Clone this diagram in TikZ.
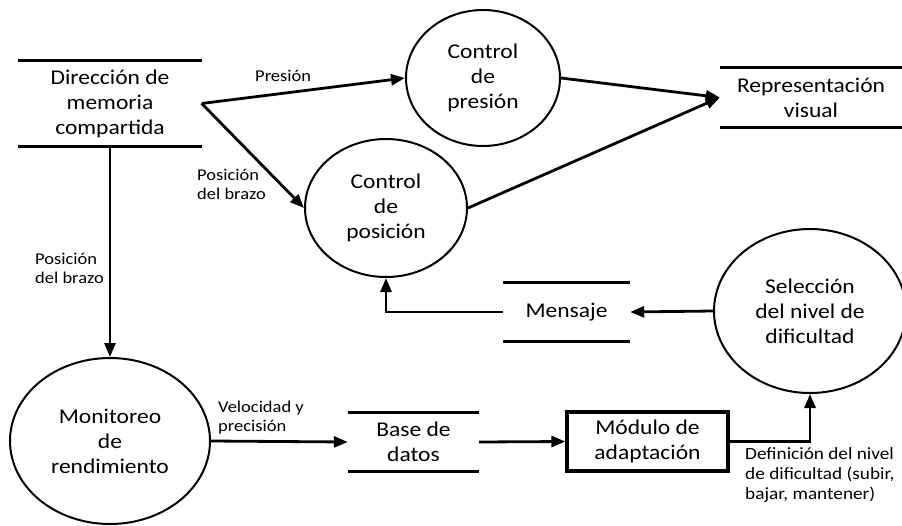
\documentclass[tikz,border=0pt]{standalone}
\usepackage{fontspec}
\setmainfont{Carlito}[FakeStretch=1.12]
\usetikzlibrary{arrows.meta,shapes.geometric}
\tikzset{
	proc/.style={ellipse, draw, line width=2pt, inner sep=0pt, align=center, font=\fontsize{21}{25}\selectfont},
	store/.style={inner sep=0pt, align=center, font=\fontsize{21}{25}\selectfont},
	storeline/.style={line width=3pt},
	modbox/.style={draw, line width=3.2pt, inner sep=0pt, align=center, font=\fontsize{21}{25}\selectfont},
	flow/.style={line width=2.8pt, -{Triangle[length=14pt,width=11pt]}},
	lbl/.style={inner sep=0pt, align=left, anchor=west, font=\fontsize{16.5}{19}\selectfont}
}

\begin{document}
\begin{tikzpicture}[x=1pt, y=-1pt]
		%%%%% START %%%%%
		\useasboundingbox (0, 0) rectangle (902, 525);
		
		\node[proc, minimum width=154, minimum height=136] (cpres) at (483, 78) {Control\\de\\presión};
		\node[proc, minimum width=162, minimum height=138] (cpos) at (386, 208) {Control\\de\\posición};
		\node[proc, minimum width=200, minimum height=166] (moni) at (110, 441) {Monitoreo\\de\\rendimiento};
		\node[proc, minimum width=192, minimum height=164] (sel) at (810, 311) {Selección\\del nivel de\\dificultad};
		
		\node[store, minimum width=183, minimum height=85] (mem) at (110, 103.5) {Dirección de\\memoria\\compartida};
		\node[store, minimum width=182, minimum height=59] (rep) at (811, 97.5) {Representación\\visual};
		\node[store, minimum width=131, minimum height=58] (db) at (413.5, 442) {Base de\\datos};
		\node[store, minimum width=127, minimum height=58] (msg) at (566.5, 312) {Mensaje};
		\node[modbox, minimum width=161, minimum height=59] (mod) at (647.5, 441.5) {Módulo de\\adaptación};
		
		% lineas de los almacenes
		\foreach \s in {mem, rep, db, msg} {
			\draw[storeline] (\s.north west) -- (\s.north east);
			\draw[storeline] (\s.south west) -- (\s.south east);
		}
		
		\draw[flow] (mem.east) -- (cpres.west);
		\draw[flow] (mem.east) -- (cpos.west);
		\draw[flow] (cpres.east) -- (rep.west);
		\draw[flow] (cpos.east) -- (rep.west);
		\draw[flow] (mem.south) -- (moni.north);
		\draw[flow] (moni.east) -- (db.west);
		\draw[flow] (db.east) -- (mod.west);
		\draw[flow] (mod.east) -| (sel.south);
		\draw[flow] (sel.west) -- (msg.east);
		\draw[flow] (msg.west) -| (cpos.south);
		
		\node[lbl] (lpres) at (255, 76) {Presión};
		\node[lbl] (lpos1) at (197, 184) {Posición\\del brazo};
		\node[lbl] (lpos2) at (35, 268) {Posición\\del brazo};
		\node[lbl] (lvel) at (218, 418) {Velocidad y\\precisión};
		\node[lbl, font=\fontsize{17.2}{20}\selectfont] (ldef) at (745, 475) {Definición del nivel\\de dificultad (subir,\\bajar, mantener)};
		
		%%%%% END %%%%%
	\end{tikzpicture}
\end{document}
